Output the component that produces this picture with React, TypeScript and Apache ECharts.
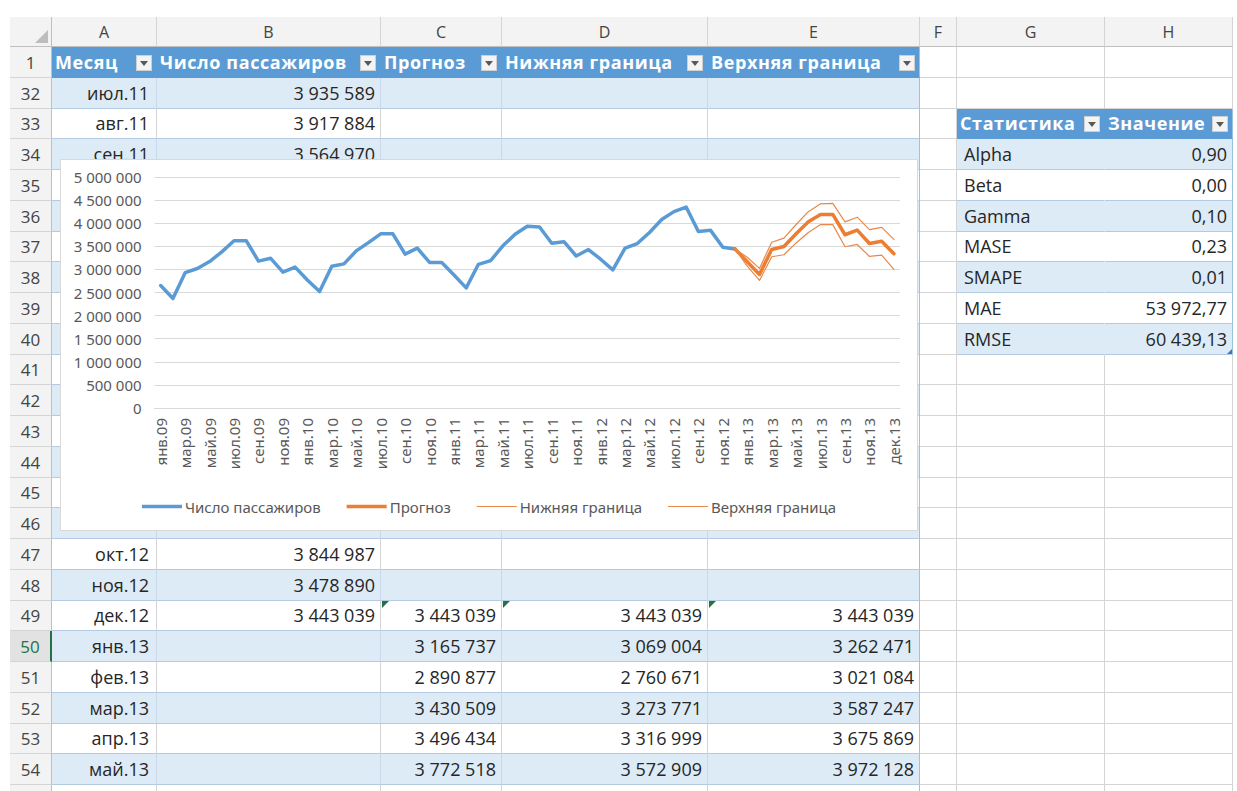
import React, { useEffect, useRef } from 'react';
import * as echarts from 'echarts';

// ---------- DATA ----------
const MONTH_ABBR = ['янв', 'фев', 'мар', 'апр', 'май', 'июн', 'июл', 'авг', 'сен', 'окт', 'ноя', 'дек'];
const YEARS = ['09', '10', '11', '12', '13'];
const LAST_AXIS_LABEL = 'дек.13';

const PASSENGERS = [
  2650000, 2370000, 2930000, 3020000, 3170000, 3380000, 3620000, 3620000, 3180000, 3240000, 2940000, 3050000,
  2770000, 2520000, 3070000, 3120000, 3400000, 3580000, 3770000, 3770000, 3330000, 3460000, 3150000, 3150000,
  2880000, 2600000, 3110000, 3190000, 3510000, 3760000, 3935589, 3917884, 3564970, 3600000, 3290000, 3430000,
  3220000, 2990000, 3460000, 3560000, 3800000, 4080000, 4250000, 4350000, 3820000, 3844987, 3478890, 3443039,
];
const FORECAST_START = 47;
const FORECAST = [3443039, 3165737, 2890877, 3430509, 3496434, 3772518, 4030000, 4190000, 4190000, 3750000, 3850000, 3560000, 3610000, 3340000];
const LOWER = [3443039, 3069004, 2760671, 3273771, 3316999, 3572909, 3800000, 3970000, 3970000, 3490000, 3540000, 3280000, 3310000, 3000000];
const UPPER = [3443039, 3262471, 3021084, 3587247, 3675869, 3972128, 4250000, 4420000, 4430000, 4030000, 4130000, 3860000, 3910000, 3650000];

const Y_MIN = 0;
const Y_MAX = 5000000;
const Y_STEP = 500000;

const SERIES_NAMES = ['Число пассажиров', 'Прогноз', 'Нижняя граница', 'Верхняя граница'];
const MAIN_HEADERS = ['Месяц', 'Число пассажиров', 'Прогноз', 'Нижняя граница', 'Верхняя граница'];
const STAT_HEADERS = ['Статистика', 'Значение'];
const STAT_NAMES = ['Alpha', 'Beta', 'Gamma', 'MASE', 'SMAPE', 'MAE', 'RMSE'];
const STAT_VALUES = ['0,90', '0,00', '0,10', '0,23', '0,01', '53 972,77', '60 439,13'];
const COL_LETTERS = ['A', 'B', 'C', 'D', 'E', 'F', 'G', 'H'];
const SHEET_ROWS = [1, 32, 33, 34, 35, 36, 37, 38, 39, 40, 41, 42, 43, 44, 45, 46, 47, 48, 49, 50, 51, 52, 53, 54, 55];

const CATEGORIES: string[] = [];
YEARS.forEach((y) => MONTH_ABBR.forEach((m) => CATEGORIES.push(m + '.' + y)));
CATEGORIES.push(LAST_AXIS_LABEL);

// ---------- LAYOUT / STYLE ----------
const COL_X = [10, 52, 157, 381, 502, 708, 920, 957, 1105, 1233];
const HEADER_TOP = 17;
const ROW0_TOP = 47;
const ROW_H = 30.75;
const HEADER_BLUE = '#5B9BD5';
const BAND = '#DDEBF7';
const GRID = '#D4D4D4';
const TABLE_LINE = '#B4CAE3';
const TABLE_EDGE = '#9BC2E6';
const SHEET_FONT = "'Open Sans', 'Noto Sans', sans-serif";
const CHART_FONT = "'Noto Sans', 'Open Sans', sans-serif";

// legend icons: a horizontal bar of given thickness inside a 40x14 box
const legendBar = (t: number) => {
  const y0 = 7 - t / 2;
  const y1 = 7 + t / 2;
  return `path://M0,0H0.01V0.01H0Z M0,${y0}H40V${y1}H0Z M39.99,13.99H40V14H39.99Z`;
};

const fmt = (v: number) => Math.round(v).toString().replace(/\B(?=(\d{3})+(?!\d))/g, ' ');

function Chart() {
  const ref = useRef<HTMLDivElement>(null);
  useEffect(() => {
    if (!ref.current) return;
    const chart = echarts.init(ref.current, undefined, { renderer: 'svg' });
    const passengersData = CATEGORIES.map((_, i) => (i < PASSENGERS.length ? PASSENGERS[i] : null));
    const fromForecast = (arr: number[]) =>
      CATEGORIES.map((_, i) => {
        const k = i - FORECAST_START;
        return k >= 0 && k < arr.length ? arr[k] : null;
      });
    const line = (name: string, data: any[], color: string, width: number, z: number) => ({
      name,
      type: 'line',
      data,
      symbol: 'none',
      connectNulls: false,
      z,
      lineStyle: { color, width, cap: 'round', join: 'round' },
      itemStyle: { color },
    });
    const widths = [3.5, 3.5, 1.2, 1.2];
    chart.setOption({
      animation: false,
      textStyle: { fontFamily: CHART_FONT },
      grid: { left: 93.6, right: 17, top: 17, bottom: 122, outerBoundsMode: 'none' },
      legend: {
        top: 334,
        left: 'center',
        itemWidth: 40,
        itemHeight: 14,
        itemGap: 26,
        textStyle: { color: '#595959', fontSize: 15, fontFamily: CHART_FONT, padding: [0, 0, 0, -2] },
        data: SERIES_NAMES.map((name, i) => ({
          name,
          icon: legendBar(widths[i]),
          itemStyle: { borderWidth: 0 },
        })),
      },
      xAxis: {
        type: 'category',
        data: CATEGORIES,
        boundaryGap: true,
        axisLine: { show: true, lineStyle: { color: '#D9D9D9' } },
        axisTick: { show: false },
        axisLabel: { rotate: 90, interval: 1, color: '#595959', fontSize: 15, margin: 10, fontFamily: CHART_FONT },
        splitLine: { show: false },
      },
      yAxis: {
        type: 'value',
        min: Y_MIN,
        max: Y_MAX,
        interval: Y_STEP,
        axisLine: { show: false },
        axisTick: { show: false },
        axisLabel: { color: '#595959', fontSize: 15, margin: 13, formatter: (v: number) => fmt(v), fontFamily: CHART_FONT },
        splitLine: { lineStyle: { color: '#D9D9D9', width: 1 } },
      },
      series: [
        line(SERIES_NAMES[0], passengersData, '#5B9BD5', widths[0], 2),
        line(SERIES_NAMES[1], fromForecast(FORECAST), '#ED7D31', widths[1], 3),
        line(SERIES_NAMES[2], fromForecast(LOWER), '#E8894A', widths[2], 4),
        line(SERIES_NAMES[3], fromForecast(UPPER), '#E8894A', widths[3], 4),
      ],
    });
    return () => chart.dispose();
  }, []);
  return <div ref={ref} style={{ width: '100%', height: '100%' }} />;
}

function Dropdown({ right, top }: { right: number; top: number }) {
  return (
    <div
      style={{
        position: 'absolute',
        left: right - 21,
        top: top,
        width: 16,
        height: 16,
        background: '#F4F4F4',
        border: '1px solid #D0D0D0',
        boxSizing: 'border-box',
        zIndex: 2,
      }}
    >
      <div
        style={{
          position: 'absolute',
          left: 3,
          top: 5,
          width: 0,
          height: 0,
          borderLeft: '4px solid transparent',
          borderRight: '4px solid transparent',
          borderTop: '5px solid #595959',
        }}
      />
    </div>
  );
}

function cellText(rowNum: number, c: number): string {
  if (rowNum === 1) return c <= 4 ? MAIN_HEADERS[c] : '';
  if (c === 6 || c === 7) {
    if (rowNum === 33) return STAT_HEADERS[c - 6];
    if (rowNum >= 34 && rowNum <= 40) return c === 6 ? STAT_NAMES[rowNum - 34] : STAT_VALUES[rowNum - 34];
    return '';
  }
  if (c > 4) return '';
  if (rowNum >= 35 && rowNum <= 46) return '';
  if (rowNum > 54) return '';
  const idx = rowNum - 2;
  if (c === 0) return CATEGORIES[idx] || '';
  if (c === 1) return idx < PASSENGERS.length ? fmt(PASSENGERS[idx]) : '';
  const k = idx - FORECAST_START;
  const arr = [FORECAST, LOWER, UPPER][c - 2];
  return k >= 0 && k < arr.length ? fmt(arr[k]) : '';
}

export default function App() {
  const elems: React.ReactNode[] = [];

  elems.push(
    <div key="corner" style={{ position: 'absolute', left: COL_X[0], top: HEADER_TOP, width: COL_X[1] - COL_X[0], height: ROW0_TOP - HEADER_TOP, background: '#F3F3F3', borderRight: '1px solid #BFBFBF', borderBottom: '1px solid #BFBFBF', boxSizing: 'border-box' }}>
      <div style={{ position: 'absolute', right: 3, bottom: 3, width: 0, height: 0, borderLeft: '13px solid transparent', borderBottom: '13px solid #BDBDBD' }} />
    </div>
  );
  COL_LETTERS.forEach((L, c) => {
    const left = COL_X[c + 1];
    const w = COL_X[c + 2] - left;
    elems.push(
      <div key={'ch' + c} style={{ position: 'absolute', left, top: HEADER_TOP, width: w, height: ROW0_TOP - HEADER_TOP, background: '#F3F3F3', borderRight: '1px solid #D4D4D4', borderBottom: '1px solid #BFBFBF', boxSizing: 'border-box', textAlign: 'center', lineHeight: ROW0_TOP - HEADER_TOP + 'px', fontSize: 16, color: '#444', fontFamily: SHEET_FONT }}>
        {L}
      </div>
    );
  });

  SHEET_ROWS.forEach((rowNum, j) => {
    const top = Math.round(ROW0_TOP + j * ROW_H);
    const bottom = Math.round(ROW0_TOP + (j + 1) * ROW_H);
    const h = bottom - top;
    const selected = rowNum === 50;
    const partial = rowNum > 54;
    elems.push(
      <div key={'rh' + rowNum} style={{ position: 'absolute', left: COL_X[0], top, width: COL_X[1] - COL_X[0], height: h, background: selected ? '#E2E2E2' : '#F3F3F3', borderRight: selected ? '2px solid #217346' : '1px solid #BFBFBF', borderBottom: '1px solid #D4D4D4', boxSizing: 'border-box', textAlign: 'center', lineHeight: h + 'px', fontSize: 17, color: selected ? '#217346' : '#444', fontFamily: SHEET_FONT }}>
        {partial ? '' : rowNum}
      </div>
    );
    for (let c = 0; c < 8; c++) {
      const left = COL_X[c + 1];
      const w = COL_X[c + 2] - left;
      const inMain = c <= 4;
      const inStats = (c === 6 || c === 7) && rowNum >= 33 && rowNum <= 40;
      const isHeader = (inMain && rowNum === 1) || (inStats && rowNum === 33);
      const banded = (inMain || inStats) && !isHeader && rowNum % 2 === 0;
      const bg = isHeader ? HEADER_BLUE : banded ? BAND : '#FFFFFF';
      let bRight = GRID;
      let bBottom = GRID;
      if (inMain) {
        bBottom = isHeader ? HEADER_BLUE : TABLE_LINE;
        if (c === 4) bRight = TABLE_EDGE;
        else bRight = isHeader ? HEADER_BLUE : banded ? '#C9D9EA' : GRID;
      } else if (inStats) {
        bBottom = isHeader ? HEADER_BLUE : TABLE_LINE;
        if (c === 7) bRight = TABLE_EDGE;
        else bRight = bg;
      }
      const text = cellText(rowNum, c);
      const leftAlign = isHeader || (inStats && c === 6);
      elems.push(
        <div
          key={'c' + rowNum + '_' + c}
          style={{
            position: 'absolute',
            left,
            top,
            width: w,
            height: h,
            background: bg,
            borderRight: '1px solid ' + bRight,
            borderBottom: '1px solid ' + bBottom,
            boxSizing: 'border-box',
            overflow: 'hidden',
            whiteSpace: 'nowrap',
            lineHeight: h - 1 + 'px',
            fontFamily: SHEET_FONT,
            fontSize: 18,
            fontWeight: isHeader ? 700 : 400,
            letterSpacing: isHeader ? 0.6 : 0,
            color: isHeader ? '#FFFFFF' : '#262626',
            textAlign: leftAlign ? 'left' : 'right',
            paddingLeft: leftAlign ? (isHeader ? 3 : 7) : 0,
            paddingRight: leftAlign ? 0 : c === 0 ? 7 : 5,
          }}
        >
          {text}
        </div>
      );
      if (isHeader) elems.push(<Dropdown key={'dd' + rowNum + '_' + c} right={COL_X[c + 2]} top={top + Math.round((h - 16) / 2)} />);
      if (rowNum === 49 && c >= 2 && c <= 4) {
        elems.push(
          <div key={'tri' + c} style={{ position: 'absolute', left: left + 1, top: top, width: 0, height: 0, borderTop: '7px solid #217346', borderRight: '7px solid transparent', zIndex: 2 }} />
        );
      }
      if (rowNum === 40 && c === 7) {
        elems.push(
          <div key="resize" style={{ position: 'absolute', left: left + w - 6, top: top + h - 6, width: 0, height: 0, borderBottom: '5px solid #4472C4', borderLeft: '5px solid transparent', zIndex: 2 }} />
        );
      }
    }
  });

  return (
    <div style={{ position: 'fixed', left: 0, top: 0, width: 1237, height: 791, overflow: 'hidden', background: '#FFFFFF' }}>
      {elems}
      <div
        style={{
          position: 'absolute',
          left: 60,
          top: 159,
          width: 858,
          height: 372,
          background: '#FFFFFF',
          border: '1px solid #D9D9D9',
          boxSizing: 'border-box',
          zIndex: 10,
        }}
      >
        <Chart />
      </div>
    </div>
  );
}
